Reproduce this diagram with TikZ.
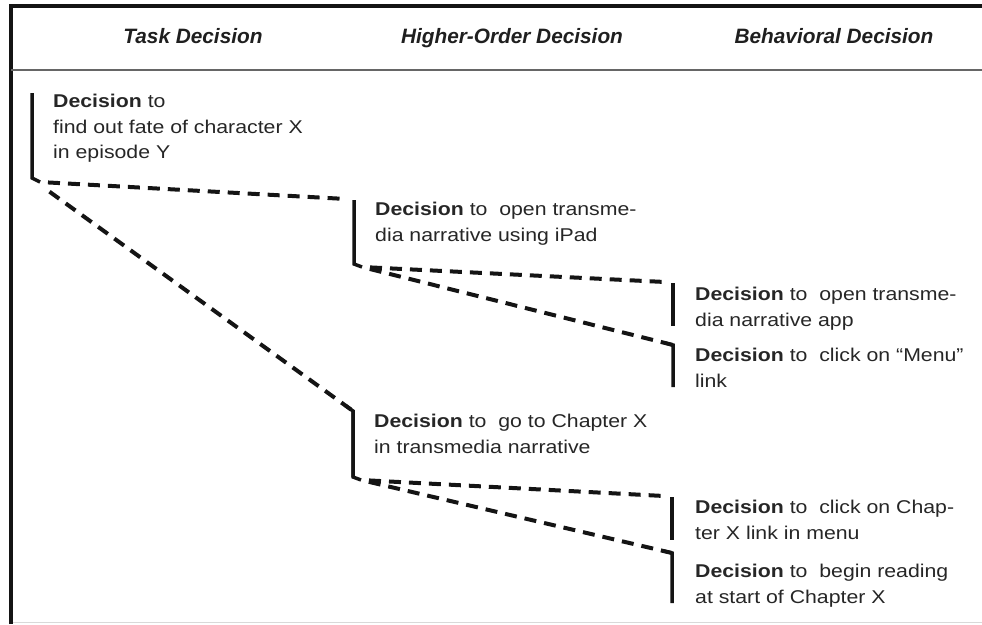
\documentclass[tikz,border=0pt]{standalone}
\usepackage{fontspec}
\setmainfont{Liberation Sans}
\newfontfamily\bodyfont[FakeStretch=1.15]{Liberation Sans}
\usetikzlibrary{calc}

\begin{document}
\begin{tikzpicture}[x=1pt,y=-1pt,
  frameline/.style={line width=4pt,black!92},
  headrule/.style={line width=2pt,black!60},
  header/.style={font=\fontsize{20.8}{24}\selectfont\bfseries\itshape,
                 text=black!88, anchor=base, inner sep=0pt},
  decision/.style={font=\bodyfont\fontsize{18.5}{25.5}\selectfont, align=left,
                   anchor=north west, inner sep=0pt, text=black!85},
  bar/.style={line width=3.5pt, line join=miter, black!92},
  link/.style={line width=4pt, black!92, dash pattern=on 12pt off 8pt, dash phase=12pt},
]
\useasboundingbox (0,0) rectangle (982,624);

% outer frame and header rule
\draw[frameline] (11,624) -- (11,6) -- (982,6);
\draw[headrule] (11,70) -- (982,70);
\draw[black!15, line width=1pt] (13,622) -- (982,622);

% column headings
\node[header] (hTask)   at (193,43) {Task Decision};
\node[header] (hHigher) at (512,43) {Higher-Order Decision};
\node[header] (hBehav)  at (834,43) {Behavioral Decision};

% bar end points of each decision
\coordinate (taskT) at (32,93);   \coordinate (taskB) at (32,178);  \coordinate (taskF) at (40,182);
\coordinate (hoaT)  at (354,200); \coordinate (hoaB)  at (354,264); \coordinate (hoaF)  at (362,267);
\coordinate (hobT)  at (353,411); \coordinate (hobB)  at (353,477); \coordinate (hobF)  at (361,480);
\coordinate (beaT)  at (673,283); \coordinate (beaB)  at (673,326);
\coordinate (bebT)  at (673,345); \coordinate (bebB)  at (673,387);
\coordinate (becT)  at (672,497); \coordinate (becB)  at (672,540);
\coordinate (bedT)  at (672,553); \coordinate (bedB)  at (672,603);

% decision texts
\node[decision] (task) at (53,94)  {\textbf{Decision} to\\find out fate of character X\\in episode Y};
\node[decision] (hoa)  at (375,202) {\textbf{Decision} to\ \ open transme-\\dia narrative using iPad};
\node[decision] (hob)  at (374,414) {\textbf{Decision} to\ \ go to Chapter X\\in transmedia narrative};
\node[decision] (bea)  at (695,287) {\textbf{Decision} to\ \ open transme-\\dia narrative app};
\node[decision] (beb)  at (695,348) {\textbf{Decision} to\ \ click on “Menu”\\link};
\node[decision] (bec)  at (695,500) {\textbf{Decision} to\ \ click on Chap-\\ter X link in menu};
\node[decision] (bed)  at (695,564) {\textbf{Decision} to\ \ begin reading\\at start of Chapter X};

% bars: parents end in a short foot
\draw[bar] (taskT) -- (taskB) -- (taskF);
\draw[bar] (hoaT) -- (hoaB) -- (hoaF);
\draw[bar] (hobT) -- (hobB) -- (hobF);
\draw[bar] (beaT) -- (beaB);
\draw[bar] (becT) -- (becB);
% bars that start with a short hook toward their parent
\draw[bar] ($(hobT)!9pt!(taskF)$) -- (hobT) -- (hobB);
\draw[bar] ($(bebT)!9pt!(hoaF)$) -- (bebT) -- (bebB);
\draw[bar] ($(bedT)!9pt!(hobF)$) -- (bedT) -- (bedB);

% dashed links between decisions
\draw[link] (taskF) -- ($(hoaT)+(-8,-1)$);
\draw[link] ($(taskF)+(3,5)$) -- (hobT);
\draw[link] (hoaF) -- ($(beaT)+(-8,-1)$);
\draw[link] (hoaF) -- (bebT);
\draw[link] (hobF) -- ($(becT)+(-8,-1)$);
\draw[link] (hobF) -- (bedT);
\end{tikzpicture}
\end{document}
